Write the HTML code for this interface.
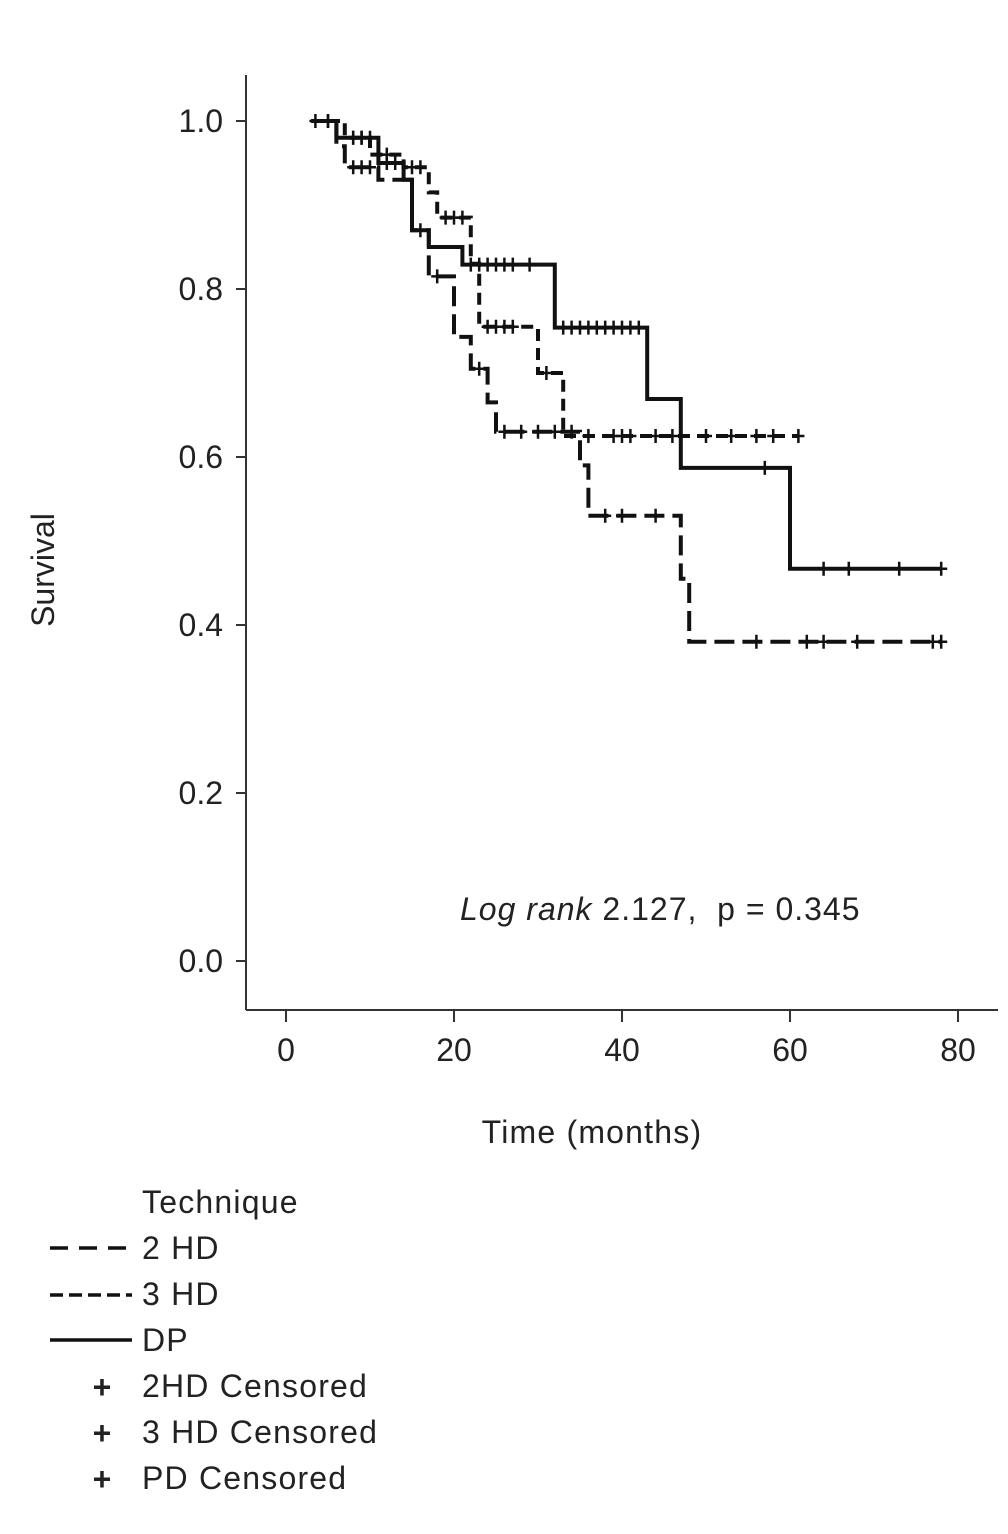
<!DOCTYPE html>
<html><head><meta charset="utf-8"><style>
html,body{margin:0;padding:0;background:#fff;}
svg{display:block;}
text{font-family:"Liberation Sans",sans-serif;fill:#222;}
.lg{letter-spacing:1.2px;}
</style></head><body>
<svg id="chart" width="1008" height="1534" viewBox="0 0 1008 1534" xmlns="http://www.w3.org/2000/svg">
<g id="axes"></g>
<g id="series"></g>
<text x="460" y="920" font-size="32" style="white-space:pre;letter-spacing:1px"><tspan font-style="italic">Log rank</tspan> 2.127,  p = 0.345</text>
<text x="592" y="1143" font-size="32" text-anchor="middle" class="lg">Time (months)</text>
<text transform="translate(54,570) rotate(-90)" font-size="32" text-anchor="middle">Survival</text>
<g>
<text x="142" y="1213" font-size="32" class="lg">Technique</text>
<line x1="50" y1="1248" x2="132" y2="1248" stroke="#111" stroke-width="3.5" stroke-dasharray="18,11"/>
<text x="142" y="1259" font-size="32" class="lg">2 HD</text>
<line x1="50" y1="1295" x2="132" y2="1295" stroke="#111" stroke-width="3.5" stroke-dasharray="13,6"/>
<text x="142" y="1305" font-size="32" class="lg">3 HD</text>
<line x1="50" y1="1340" x2="132" y2="1340" stroke="#111" stroke-width="3.5"/>
<text x="142" y="1351" font-size="32" class="lg">DP</text>
<text x="102" y="1398" font-size="32" font-weight="bold" text-anchor="middle">+</text>
<text x="142" y="1397" font-size="32" class="lg">2HD Censored</text>
<text x="102" y="1444" font-size="32" font-weight="bold" text-anchor="middle">+</text>
<text x="142" y="1443" font-size="32" class="lg">3 HD Censored</text>
<text x="102" y="1490" font-size="32" font-weight="bold" text-anchor="middle">+</text>
<text x="142" y="1489" font-size="32" class="lg">PD Censored</text>
</g>
</svg>
<script>
const xTicks=[0,20,40,60,80];
const yTicks=[0.0,0.2,0.4,0.6,0.8,1.0];
// step times and survival values (survival after the step at that time)
const dpTimes=[3,6,11,14,15,17,21,32,43,47,60,78];
const dpSurv=[1.0,0.98,0.95,0.93,0.87,0.85,0.829,0.754,0.669,0.587,0.467,0.467];
const dpCens=[3.5,5,8,9,10,12,13,16,22,23,24,25,26,27,29,33,34,35,36,37,38,39,40,41,42,57,64,67,73,78];
const hd3Times=[5,7,10,14,17,18,22,23,30,33,61];
const hd3Surv=[1.0,0.98,0.96,0.945,0.915,0.885,0.83,0.755,0.70,0.625,0.625];
const hd3Cens=[8,9,11,12,15,16,19,20,21,24,25,26,27,31,36,39,40,41,44,46,50,53,56,58,61];
const hd2Times=[3,6,7,11,15,17,20,22,24,25,35,36,47,48,78];
const hd2Surv=[1.0,0.97,0.945,0.93,0.87,0.815,0.743,0.705,0.665,0.63,0.59,0.53,0.455,0.38,0.38];
const hd2Cens=[5,8,9,10,18,23,26,28,30,32,34,38,40,44,56,62,64,68,77,78];

const X0=286,PXM=8.4,Y0=961,PYU=840;
const sx=v=>X0+v*PXM, sy=v=>Y0-v*PYU;
const NS='http://www.w3.org/2000/svg';
const axes=document.getElementById('axes'), series=document.getElementById('series');
function mk(tag,attrs,parent){const e=document.createElementNS(NS,tag);for(const k in attrs)e.setAttribute(k,attrs[k]);parent.appendChild(e);return e;}
let e;
e=mk('line',{x1:246,y1:75,x2:246,y2:1010,stroke:'#333','stroke-width':2},axes);


e=mk('line',{x1:246,y1:1010,x2:998,y2:1010,stroke:'#333','stroke-width':2},axes);


xTicks.forEach(t=>{
 e=mk('line',{x1:sx(t),y1:1010,x2:sx(t),y2:1022,stroke:'#333','stroke-width':2},axes);
 
 
 e=mk('text',{x:sx(t),y:1061,'font-size':32,'text-anchor':'middle'},axes);e.textContent=t;
 
 
});
yTicks.forEach(t=>{
 e=mk('line',{x1:236,y1:sy(t),x2:246,y2:sy(t),stroke:'#333','stroke-width':2},axes);
 
 
 e=mk('text',{x:223,y:sy(t)+11,'font-size':32,'text-anchor':'end'},axes);e.textContent=t.toFixed(1);
 
 
});
function survAt(times,surv,t){let s=surv[0];for(let i=0;i<times.length;i++){if(times[i]<=t)s=surv[i];}return s;}
function drawSeries(times,surv,cens,dash,name){
 let d='M'+sx(times[0])+','+sy(surv[0]);
 for(let i=1;i<times.length;i++){d+=' H'+sx(times[i])+' V'+sy(surv[i]);}
 const g=mk('g',{},series);
 
 
 e=mk('path',{d:d,fill:'none',stroke:'#111','stroke-width':4,'stroke-dasharray':dash},g);
 
 
 cens.forEach(c=>{
  const x=sx(c),y=sy(survAt(times,surv,c));
  e=mk('path',{d:`M${x},${y-7} V${y+7} M${x-6},${y} H${x+6}`,stroke:'#111','stroke-width':2.5},g);
  
  
 });
}
drawSeries(hd2Times,hd2Surv,hd2Cens,'20,8','hd2');
drawSeries(hd3Times,hd3Surv,hd3Cens,'12,7','hd3');
drawSeries(dpTimes,dpSurv,dpCens,'none','dp');
</script>
</body></html>
